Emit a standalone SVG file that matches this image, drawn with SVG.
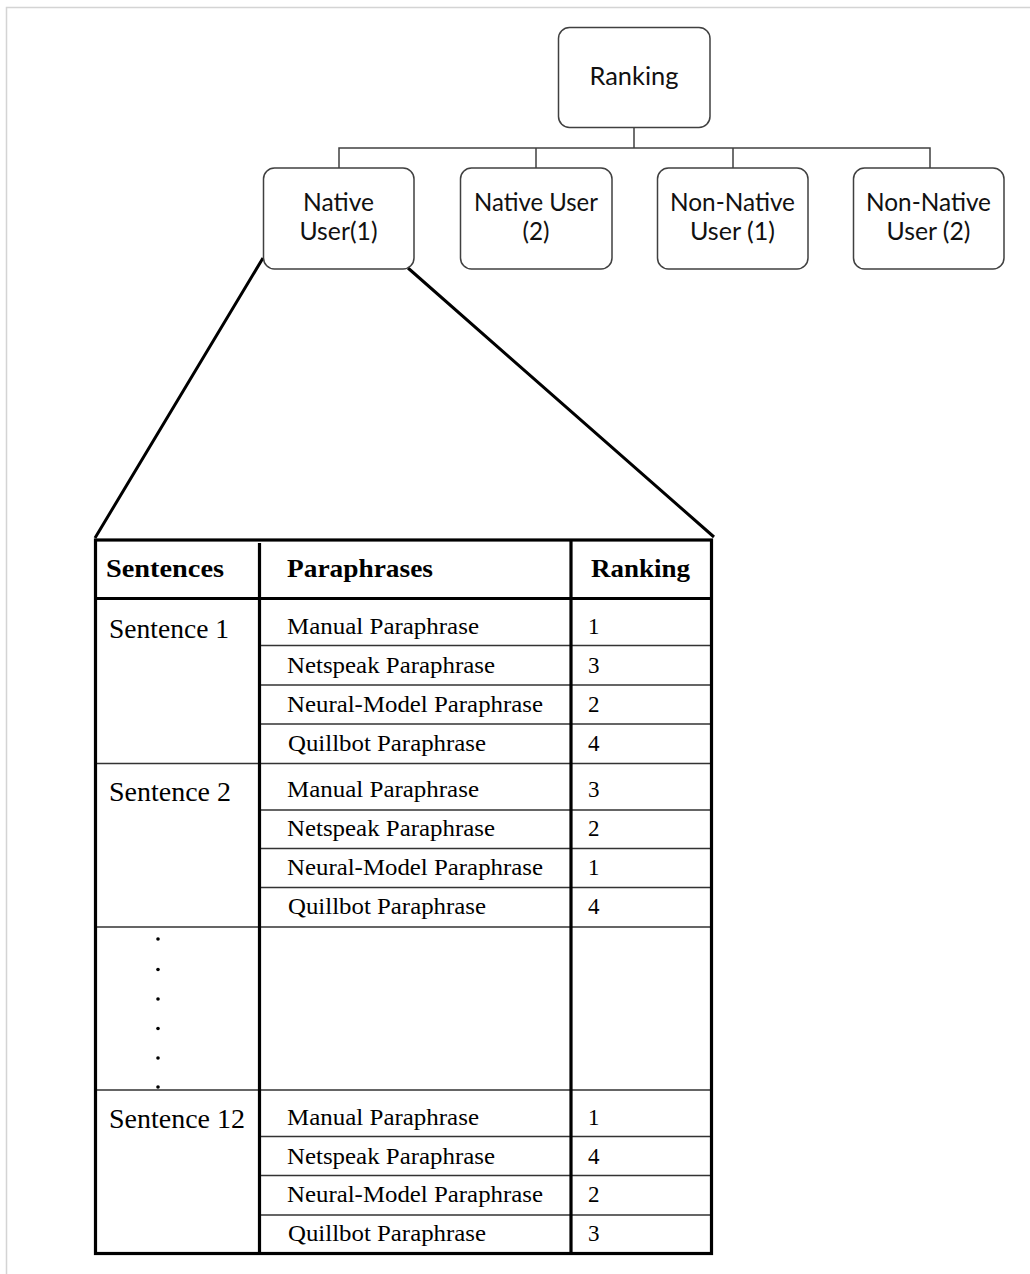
<svg xmlns="http://www.w3.org/2000/svg" width="1030" height="1274" viewBox="0 0 1030 1274">
<style>
.box{fill:#fff;stroke:#404040;stroke-width:1.5}
.tree{font-family:Lato,"Open Sans","Liberation Sans",sans-serif;font-size:25px;fill:#111;text-anchor:middle}
.conn{stroke:#404040;stroke-width:1.5;fill:none}
.zoom{stroke:#000;stroke-width:3;fill:none}
.thick{stroke:#000;stroke-width:3.2;fill:none}
.thin{stroke:#333;stroke-width:1.5;fill:none}
.hd{font-family:"Liberation Serif","Times New Roman",serif;font-size:26px;font-weight:bold;fill:#000}
.sl{font-family:"Liberation Serif","Times New Roman",serif;font-size:27px;fill:#000}
.td{font-family:"Liberation Serif","Times New Roman",serif;font-size:23px;fill:#000}
.frame{stroke:#d4d4d4;stroke-width:1.5;fill:none}
</style>
<rect width="1030" height="1274" fill="#fff"/>
<path class="frame" d="M6.5,1274 V7.5 H1030"/>
<g id="connectors">
<path class="conn" d="M634,127.5 V148 M339,168 V148 H930 V168 M536,148 V168 M733,148 V168"/>
<path class="zoom" d="M263,258 L95,538 M408,268 L714,537"/>
</g>
<g id="ranking">
<rect class="box" x="558.5" y="27.5" width="151.5" height="100" rx="11"/>
<text class="tree" x="634" y="85" textLength="89" lengthAdjust="spacingAndGlyphs">Ranking</text>
</g>
<g id="native1">
<rect class="box" x="263.5" y="168" width="150.5" height="101" rx="11"/>
<text class="tree" x="338.5" y="211" textLength="71" lengthAdjust="spacingAndGlyphs">Native</text>
<text class="tree" x="338.5" y="240" textLength="78" lengthAdjust="spacingAndGlyphs">User(1)</text>
</g>
<g id="native2">
<rect class="box" x="460.5" y="168" width="151.5" height="101" rx="11"/>
<text class="tree" x="536" y="211" textLength="124" lengthAdjust="spacingAndGlyphs">Native User</text>
<text class="tree" x="536" y="240" textLength="27" lengthAdjust="spacingAndGlyphs">(2)</text>
</g>
<g id="nonnative1">
<rect class="box" x="657.5" y="168" width="150.5" height="101" rx="11"/>
<text class="tree" x="732.5" y="211" textLength="125" lengthAdjust="spacingAndGlyphs">Non-Native</text>
<text class="tree" x="732.5" y="240" textLength="85" lengthAdjust="spacingAndGlyphs">User (1)</text>
</g>
<g id="nonnative2">
<rect class="box" x="853.5" y="168" width="150.5" height="101" rx="11"/>
<text class="tree" x="928.5" y="211" textLength="125" lengthAdjust="spacingAndGlyphs">Non-Native</text>
<text class="tree" x="928.5" y="240" textLength="84" lengthAdjust="spacingAndGlyphs">User (2)</text>
</g>
<g id="table">
<path class="thin" d="M260,645.5 H711 M260,685 H711 M260,724 H711 M96,763.5 H711 M260,810 H711 M260,848.5 H711 M260,887.5 H711 M96,927 H711 M96,1090 H711 M260,1136.5 H711 M260,1175.5 H711 M260,1215 H711"/>
<rect class="thick" x="95.5" y="540" width="616" height="713.5"/>
<path class="thick" d="M95.5,598.5 H711.5 M259.5,543 V1253.5 M571,540 V1253.5"/>
<text class="hd" x="106" y="577" textLength="118" lengthAdjust="spacingAndGlyphs">Sentences</text>
<text class="hd" x="287" y="577" textLength="146" lengthAdjust="spacingAndGlyphs">Paraphrases</text>
<text class="hd" x="591" y="577" textLength="99" lengthAdjust="spacingAndGlyphs">Ranking</text>
<text class="sl" x="109" y="637.5" textLength="120" lengthAdjust="spacingAndGlyphs">Sentence  1</text>
<text class="sl" x="109" y="801" textLength="122" lengthAdjust="spacingAndGlyphs">Sentence  2</text>
<text class="sl" x="109" y="1128" textLength="136" lengthAdjust="spacingAndGlyphs">Sentence  12</text>
<g class="td">
<text x="287" y="634" textLength="192" lengthAdjust="spacingAndGlyphs">Manual  Paraphrase</text>
<text x="287" y="673" textLength="208" lengthAdjust="spacingAndGlyphs">Netspeak Paraphrase</text>
<text x="287" y="712" textLength="256" lengthAdjust="spacingAndGlyphs">Neural-Model  Paraphrase</text>
<text x="288" y="750.5" textLength="198" lengthAdjust="spacingAndGlyphs">Quillbot  Paraphrase</text>
<text x="588" y="634">1</text>
<text x="588" y="673">3</text>
<text x="588" y="712">2</text>
<text x="588" y="750.5">4</text>
<text x="287" y="797" textLength="192" lengthAdjust="spacingAndGlyphs">Manual  Paraphrase</text>
<text x="287" y="836" textLength="208" lengthAdjust="spacingAndGlyphs">Netspeak Paraphrase</text>
<text x="287" y="874.5" textLength="256" lengthAdjust="spacingAndGlyphs">Neural-Model  Paraphrase</text>
<text x="288" y="913.5" textLength="198" lengthAdjust="spacingAndGlyphs">Quillbot  Paraphrase</text>
<text x="588" y="797">3</text>
<text x="588" y="836">2</text>
<text x="588" y="874.5">1</text>
<text x="588" y="913.5">4</text>
<text x="287" y="1125" textLength="192" lengthAdjust="spacingAndGlyphs">Manual  Paraphrase</text>
<text x="287" y="1163.5" textLength="208" lengthAdjust="spacingAndGlyphs">Netspeak Paraphrase</text>
<text x="287" y="1202" textLength="256" lengthAdjust="spacingAndGlyphs">Neural-Model  Paraphrase</text>
<text x="288" y="1241" textLength="198" lengthAdjust="spacingAndGlyphs">Quillbot  Paraphrase</text>
<text x="588" y="1125">1</text>
<text x="588" y="1163.5">4</text>
<text x="588" y="1202">2</text>
<text x="588" y="1241">3</text>
</g>
<g fill="#000">
<circle cx="158" cy="939" r="1.8"/>
<circle cx="158" cy="969.5" r="1.8"/>
<circle cx="158" cy="999" r="1.8"/>
<circle cx="158" cy="1028.5" r="1.8"/>
<circle cx="158" cy="1058" r="1.8"/>
<circle cx="158" cy="1087" r="1.8"/>
</g>
</g>
</svg>
